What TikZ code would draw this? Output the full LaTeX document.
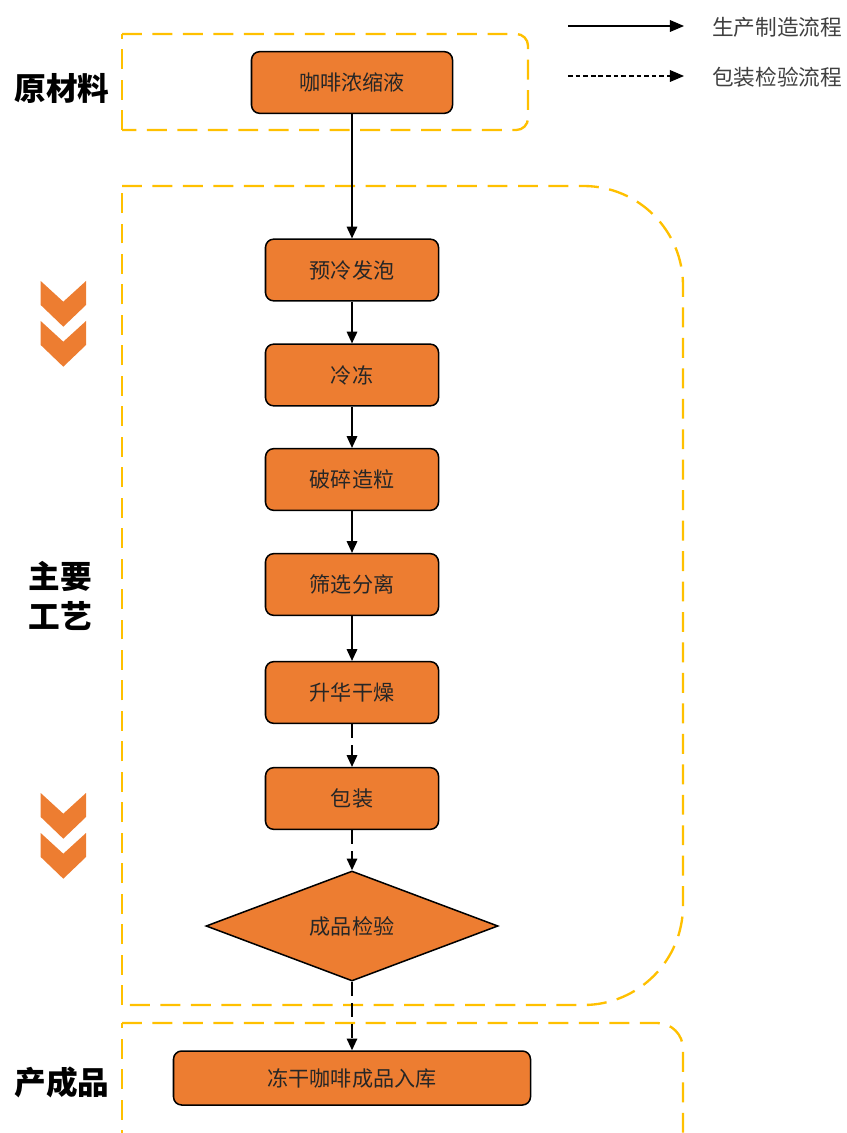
\documentclass[tikz,border=0pt]{standalone}
\usepackage{fontspec}
\newfontfamily\cjk{Noto Sans CJK SC}
\usetikzlibrary{positioning, shapes.geometric, arrows.meta}
\definecolor{boxorange}{HTML}{ED7D31}
\definecolor{groupyellow}{HTML}{FFC000}

\begin{document}
\begin{tikzpicture}[x=0.03cm, y=-0.03cm,
        procnode/.style={rectangle, draw, rounded corners=7pt, line width=1.3pt, fill=boxorange,
            minimum width=5.19cm, minimum height=1.85cm, inner sep=0pt,
            font=\cjk\fontsize{18}{21}\selectfont, text=black!85},
        checknode/.style={diamond, draw, line width=1.3pt, fill=boxorange, aspect=2.65,
            minimum width=8.76cm, minimum height=3.3cm, inner sep=0pt,
            font=\cjk\fontsize{18}{21}\selectfont, text=black!85},
        grouplabel/.style={font=\cjk\bfseries\fontsize{27}{34}\selectfont, align=center},
        groupline/.style={groupyellow, line width=2pt, dash pattern=on 17pt off 9pt},
        makeflow/.style={draw, line width=1.2pt, -{Triangle[length=10pt, width=9pt]}},
        checkflow/.style={makeflow, dash pattern=on 12pt off 6pt},
        legendtext/.style={anchor=west, font=\cjk\fontsize{18.5}{22}\selectfont, text=black!75}
    ]
    \useasboundingbox (0,0) rectangle (846,1133);
    % legend
    \coordinate (la) at (568,26);
    \coordinate (lb) at (684,26);
    \coordinate (lc) at (568,76);
    \coordinate (ld) at (684,76);
    \draw[line width=0.9pt, -{Triangle[length=12pt, width=10pt]}] (la) -- (lb);
    \draw[line width=0.9pt, dash pattern=on 4pt off 2.5pt, -{Triangle[length=12pt, width=10pt]}] (lc) -- (ld);
    \node[legendtext] (l1) at (708,27) {生产制造流程};
    \node[legendtext] (l2) at (708,77) {包装检验流程};
    % group frames
    \draw[groupline] (122,130) -- (122,34);
    \draw[groupline, rounded corners=10] (122,34) -- (528,34) -- (528,130) -- (122,130);
    \draw[groupline] (122,1005) -- (122,186);
    \draw[groupline, rounded corners=85] (122,186) -- (683,186) -- (683,1005) -- (122,1005);
    \draw[groupline] (122,1150) -- (122,1023);
    \draw[groupline, rounded corners=22] (122,1023) -- (683,1023) -- (683,1150);
    % group labels
    \node[grouplabel] (g1) at (62,88) {原材料};
    \node[grouplabel] (g2) at (60,596) {主要\\工艺};
    \node[grouplabel] (g3) at (62,1082) {产成品};
    % chevrons
    \foreach \y in {281,321,793,833}
        \fill[boxorange] (40.7,\y) -- (63.3,\y+20.7) -- (86,\y) -- (86,\y+24)
            -- (63.3,\y+45.7) -- (40.7,\y+24) -- cycle;
    % process steps
    \node[procnode, minimum width=6.03cm] (raw) at (352,82.5) {咖啡浓缩液};
    \node[procnode] (s1) at (352,270) {预冷发泡};
    \node[procnode] (s2) at (352,375) {冷冻};
    \node[procnode] (s3) at (352,479.5) {破碎造粒};
    \node[procnode] (s4) at (352,584.5) {筛选分离};
    \node[procnode] (s5) at (352,692.5) {升华干燥};
    \node[procnode] (s6) at (352,798.5) {包装};
    \node[checknode] (chk) at (352,926) {成品检验};
    \node[procnode, minimum width=10.71cm, minimum height=1.62cm] (store) at (352,1078) {冻干咖啡成品入库};
    % flows
    \draw[makeflow] (raw) -- (s1);
    \draw[makeflow] (s1) -- (s2);
    \draw[makeflow] (s2) -- (s3);
    \draw[makeflow] (s3) -- (s4);
    \draw[makeflow] (s4) -- (s5);
    \draw[checkflow] (s5) -- (s6);
    \draw[checkflow] (s6) -- (chk);
    \draw[checkflow] (chk) -- (store);
\end{tikzpicture}
\end{document}
